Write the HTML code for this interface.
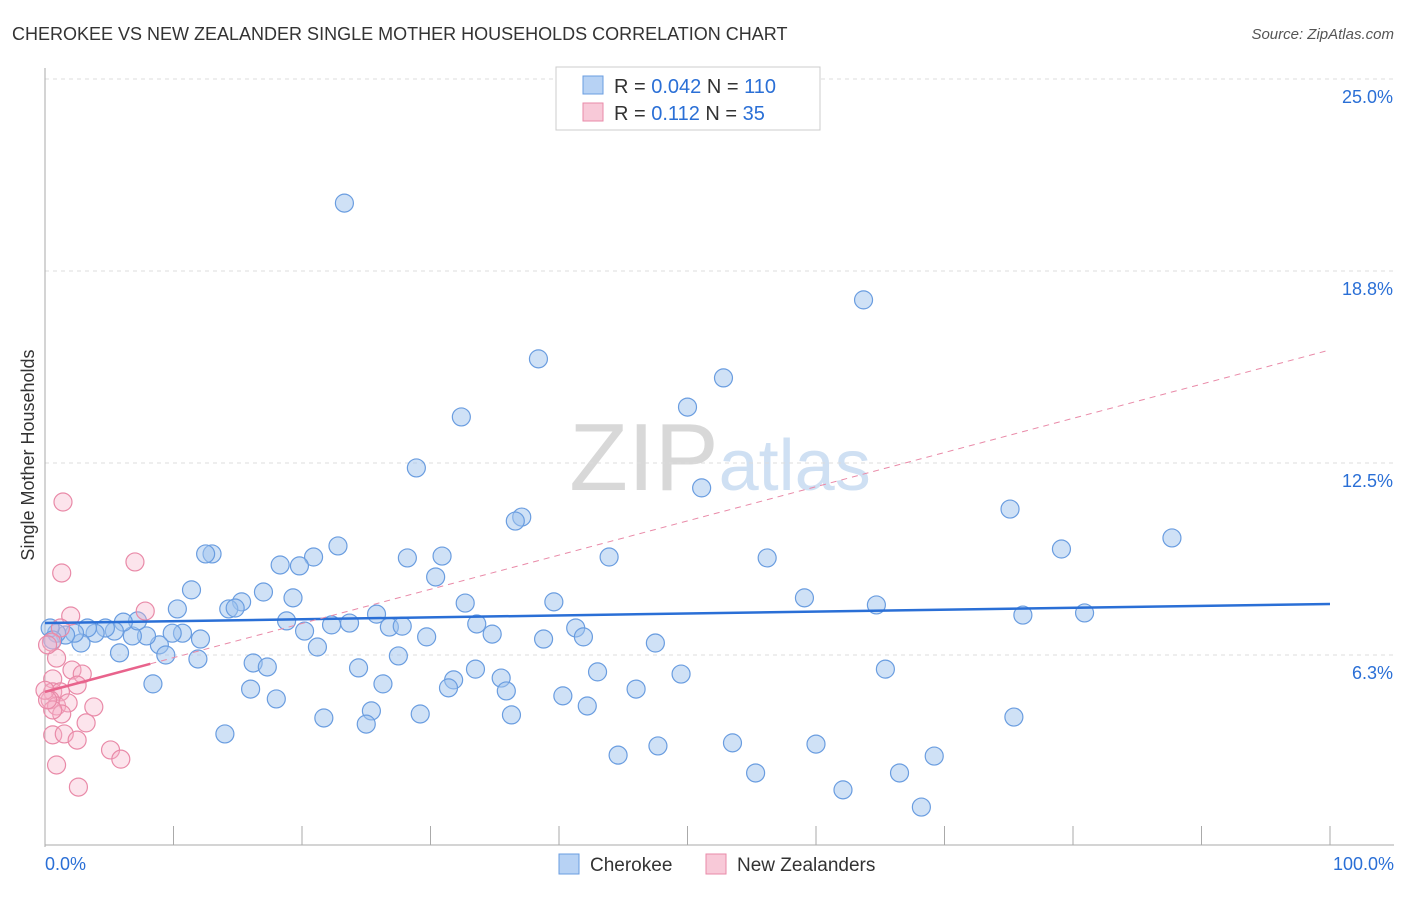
<!DOCTYPE html>
<html><head><meta charset="utf-8"><style>
body{margin:0;background:#fff;font-family:"Liberation Sans",sans-serif;}
svg text{font-family:"Liberation Sans",sans-serif;}
</style></head><body>
<svg id="chart" width="1406" height="892" xmlns="http://www.w3.org/2000/svg">
<text x="12" y="40" font-size="18" fill="#333">CHEROKEE VS NEW ZEALANDER SINGLE MOTHER HOUSEHOLDS CORRELATION CHART</text>
<text x="1394" y="39" font-size="15" fill="#555" text-anchor="end" font-style="italic">Source: ZipAtlas.com</text>
<text x="720" y="490" font-size="96" text-anchor="middle" fill="#ddd" font-family="Liberation Serif"><tspan fill="#d8d8d8">ZIP</tspan><tspan fill="#cfe0f3" font-family="Liberation Sans" font-size="72">atlas</tspan></text>
<text transform="translate(34,455) rotate(-90)" font-size="18" fill="#333" text-anchor="middle">Single Mother Households</text>
<g id="grid"></g>
<g id="axes"></g>
<g id="points"></g>
<g id="trends"></g>
<g>
<rect x="556" y="67" width="264" height="63" fill="#fff" stroke="#ccc"/>
<rect x="583" y="76" width="20" height="18" fill="#b7d2f4" stroke="#6a9de0"/>
<rect x="583" y="103" width="20" height="18" fill="#f8c9d8" stroke="#e98aa8"/>
<text x="614" y="93" font-size="20" fill="#333">R = <tspan fill="#2a6fd6">0.042</tspan>   N = <tspan fill="#2a6fd6">110</tspan></text>
<text x="614" y="120" font-size="20" fill="#333">R =   <tspan fill="#2a6fd6">0.112</tspan>   N =  <tspan fill="#2a6fd6">35</tspan></text>
</g>
<g>
<rect x="559" y="854" width="20" height="20" fill="#b7d2f4" stroke="#6a9de0"/>
<text x="590" y="871" font-size="19" fill="#333">Cherokee</text>
<rect x="706" y="854" width="20" height="20" fill="#f8c9d8" stroke="#e98aa8"/>
<text x="737" y="871" font-size="19" fill="#333">New Zealanders</text>
</g>
</svg>
<script>
const yTicks=[6.25,12.5,18.75,25];
const yTickLabels=["6.3%","12.5%","18.8%","25.0%"];
const xTickLabels=["0.0%","100.0%"];
const cherokeeX=[23.3,63.7,38.4,52.8,50.0,32.4,28.9,51.1,37.1,36.6,75.1,87.7,79.1,22.8,13.0,12.5,20.9,18.3,19.8,28.2,30.9,43.9,56.2,30.4,11.4,17.0,19.3,15.3,14.3,14.8,10.3,32.7,39.6,59.1,64.7,76.1,80.9,25.8,18.8,22.3,23.7,26.8,27.8,33.6,41.3,41.9,34.8,38.8,47.5,20.2,29.7,21.2,12.1,10.7,9.9,8.9,7.9,6.8,7.2,6.1,5.4,4.7,3.9,3.3,2.8,2.3,1.6,0.9,0.4,0.6,5.8,9.4,11.9,16.2,17.3,27.5,24.4,33.5,43.0,49.5,65.4,8.4,16.0,26.3,31.8,31.4,35.5,35.9,40.3,46.0,18.0,42.2,25.4,29.2,36.3,21.7,25.0,75.4,14.0,47.7,53.5,60.0,44.6,69.2,55.3,66.5,62.1,68.2];
const cherokeeY=[20.96,17.81,15.89,15.27,14.32,14.0,12.34,11.69,10.74,10.61,11.0,10.06,9.70,9.80,9.54,9.54,9.44,9.18,9.15,9.41,9.47,9.44,9.41,8.79,8.37,8.30,8.11,7.98,7.75,7.78,7.75,7.94,7.98,8.11,7.88,7.55,7.62,7.58,7.36,7.23,7.29,7.16,7.19,7.26,7.13,6.84,6.93,6.77,6.64,7.03,6.84,6.51,6.77,6.96,6.96,6.58,6.87,6.87,7.36,7.32,7.03,7.13,6.96,7.13,6.64,6.96,6.90,6.96,7.13,6.74,6.32,6.25,6.12,5.99,5.86,6.22,5.83,5.79,5.70,5.63,5.79,5.31,5.14,5.31,5.44,5.18,5.50,5.08,4.92,5.14,4.82,4.59,4.43,4.33,4.30,4.20,4.00,4.23,3.68,3.29,3.39,3.35,2.99,2.96,2.41,2.41,1.86,1.30];
const nzX=[1.4,1.3,7.0,7.8,2.0,1.2,0.5,0.9,2.1,2.9,2.5,0.6,0.6,1.2,0.4,0.9,1.8,1.3,3.8,0.6,3.2,0.6,1.5,2.5,5.1,5.9,0.9,2.6,0.2,0.0,0.2];
const nzY=[11.23,8.92,9.28,7.68,7.52,7.13,6.67,6.15,5.76,5.63,5.27,5.47,5.05,5.05,4.79,4.59,4.69,4.33,4.56,4.46,4.04,3.65,3.68,3.48,3.16,2.86,2.67,1.95,6.58,5.1,4.79];
const cherokeeTrend=[7.29,7.91];
const nzTrend=[5.05,16.18];
const nzSolidEnd=8.2;
const X0=45,X1=1330,Y0=847,YS=192/6.25;
const sx=v=>X0+v*(X1-X0)/100, sy=v=>Y0-v*YS;
const NS="http://www.w3.org/2000/svg";
function mk(tag,attrs,parent){const e=document.createElementNS(NS,tag);for(const k in attrs)e.setAttribute(k,attrs[k]);document.getElementById(parent).appendChild(e);return e;}
yTicks.forEach((t,i)=>{
 const l=mk('line',{x1:X0,x2:1394,y1:sy(t),y2:sy(t),stroke:'#ddd','stroke-dasharray':'4,4'},'grid');
 
 
 const tx=mk('text',{x:1393,y:sy(t)+24,'font-size':18,fill:'#2a6fd6','text-anchor':'end'},'axes');
 tx.textContent=yTickLabels[i];
 
 
});
const ax=mk('line',{x1:X0,x2:X0,y1:68,y2:Y0,stroke:'#aaa'},'axes');


const bx=mk('line',{x1:X0,x2:1394,y1:Y0-2,y2:Y0-2,stroke:'#aaa'},'axes');


for(let i=0;i<=10;i++){
 const t=mk('line',{x1:sx(i*10),x2:sx(i*10),y1:826,y2:845,stroke:'#aaa'},'axes');
 
 
}
[[0,'start',X0],[1,'end',1394]].forEach(([i,a,x])=>{
 const t=mk('text',{x:x,y:870,'font-size':18,fill:'#2a6fd6','text-anchor':a},'axes');
 t.textContent=xTickLabels[i];
 
 
});
cherokeeX.forEach((v,i)=>{
 const c=mk('circle',{cx:sx(v),cy:sy(cherokeeY[i]),r:9,fill:'rgba(160,196,238,0.5)',stroke:'#6a9de0','stroke-width':1.2},'points');
 
 
});
nzX.forEach((v,i)=>{
 const c=mk('circle',{cx:sx(v),cy:sy(nzY[i]),r:9,fill:'rgba(246,178,200,0.35)',stroke:'#e98aa8','stroke-width':1.2},'points');
 
 
});
const t1=mk('line',{x1:sx(0),x2:sx(100),y1:sy(cherokeeTrend[0]),y2:sy(cherokeeTrend[1]),stroke:'#2a6fd6','stroke-width':2.5},'trends');


const nzAt=v=>nzTrend[0]+(nzTrend[1]-nzTrend[0])*v/100;
const t2=mk('line',{x1:sx(nzSolidEnd),x2:sx(100),y1:sy(nzAt(nzSolidEnd)),y2:sy(nzTrend[1]),stroke:'#e98aa8','stroke-width':1,'stroke-dasharray':'6,5'},'trends');


const t3=mk('line',{x1:sx(0),x2:sx(nzSolidEnd),y1:sy(nzTrend[0]),y2:sy(nzAt(nzSolidEnd)),stroke:'#e8638c','stroke-width':2.5},'trends');


</script>
</body></html>
